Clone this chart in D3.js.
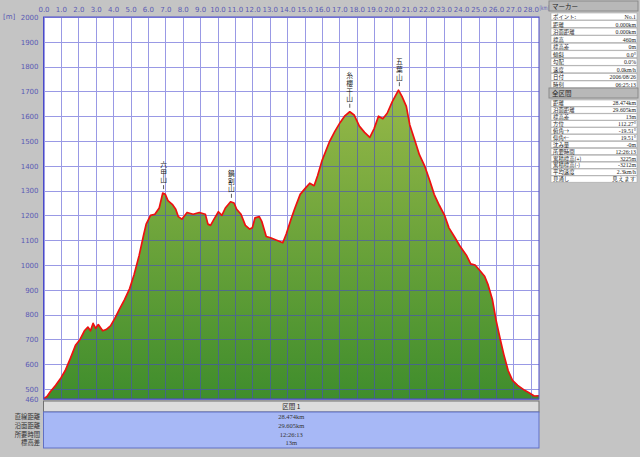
<!DOCTYPE html>
<html><head><meta charset="utf-8">
<script src="https://cdn.jsdelivr.net/npm/d3@7"></script>
<style>
html,body{margin:0;padding:0;background:#c4c4c4;}
svg{display:block;font-family:"Noto Sans CJK JP","DejaVu Sans",sans-serif;}
</style></head>
<body><svg id="c" width="640" height="457"></svg>
<script>
// ---- data ----
const distKm = [0.00,0.20,0.40,0.70,1.00,1.25,1.55,1.85,2.10,2.35,2.55,2.70,2.85,3.00,3.15,3.40,3.60,3.85,4.10,4.35,4.65,4.95,5.20,5.50,5.75,5.90,6.15,6.40,6.65,6.85,7.00,7.15,7.40,7.60,7.75,7.95,8.25,8.60,8.95,9.30,9.45,9.60,9.80,10.05,10.25,10.45,10.75,10.95,11.10,11.35,11.60,11.85,12.00,12.15,12.40,12.55,12.80,13.05,13.40,13.75,13.95,14.20,14.45,14.75,15.05,15.30,15.55,15.75,16.00,16.25,16.45,16.75,17.05,17.30,17.60,17.85,18.15,18.45,18.75,19.00,19.25,19.50,19.75,20.05,20.40,20.60,20.85,21.05,21.35,21.60,21.90,22.20,22.45,22.75,23.05,23.30,23.65,23.90,24.10,24.30,24.55,24.80,25.05,25.35,25.55,25.80,26.00,26.25,26.45,26.70,26.95,27.25,27.65,27.90,28.20,28.474];
const elevM = [460,470,490,515,545,575,625,678,700,735,750,735,765,745,760,735,740,755,785,820,860,905,960,1040,1120,1165,1200,1205,1230,1290,1285,1260,1245,1225,1195,1185,1212,1205,1212,1205,1165,1160,1185,1215,1200,1230,1255,1250,1225,1205,1160,1145,1150,1190,1195,1175,1115,1110,1100,1090,1125,1180,1230,1285,1310,1330,1320,1360,1420,1465,1500,1540,1575,1600,1618,1605,1560,1535,1515,1550,1600,1590,1612,1660,1705,1680,1640,1565,1500,1445,1400,1340,1285,1240,1200,1150,1110,1080,1060,1040,1005,1000,980,955,920,860,780,700,640,575,535,515,495,485,472,473];
const xTicks = d3.range(0, 29, 1);
const yTicks = [2000,1900,1800,1700,1600,1500,1400,1300,1200,1100,1000,900,800,700,600,500,460];
const peakNames = ["六甲山","鍋割山","糸櫻干山","五葉山"];
const peakKm = [6.9,10.8,17.6,20.45];
const peakElev = [1290,1255,1618,1705];
const markerLabels = ["ポイント:","距離","沿面距離","標高","標高差","傾斜","勾配","速度","日付","時刻"];
const markerValues = ["No.1","0.000km","0.000km","460m","0m","0.0°","0.0%","0.0km/h","2006/08/26","06:25:13"];
const totalLabels = ["距離","沿面距離","標高差","方位","俯角→","仰角←","沈み量","所要時間","累積標高(+)","累積標高(-)","平均速度","見通し"];
const totalValues = ["28.474km","29.605km","13m","112.27°","-19.51°","19.51°","-0m","12:26:13","3225m","-3212m","2.3km/h","見えます"];
const sectionLabels = ["直線距離","沿面距離","所要時間","標高差"];
const sectionValues = ["28.474km","29.605km","12:26:13","13m"];

// ---- drawing ----
const svg = d3.select("#c");
const x = d3.scaleLinear().domain([0, 28.474]).range([43.5, 539]);
const y = d3.scaleLinear().domain([460, 2000]).range([399, 17]);
const axisCol = "#5a5ab4";

const defs = svg.append("defs");
const g1 = defs.append("linearGradient").attr("id","gf")
  .attr("gradientUnits","userSpaceOnUse").attr("x1",0).attr("x2",0).attr("y1",y(1700)).attr("y2",y(460));
g1.append("stop").attr("offset","0").attr("stop-color","#96b848");
g1.append("stop").attr("offset","1").attr("stop-color","#3f8d2c");

svg.append("rect").attr("x",x(0)).attr("y",y(2000)).attr("width",x(28.474)-x(0)).attr("height",y(460)-y(2000)).attr("fill","#fff");

const pts = distKm.map((d,i)=>[d, elevM[i]]);
svg.append("path").datum(pts).attr("fill","url(#gf)")
  .attr("d", d3.area().x(d=>x(d[0])).y0(y(460)).y1(d=>y(d[1])));

const grid = svg.append("g").attr("stroke","#4646d0").attr("stroke-width",1).attr("opacity",0.55);
xTicks.forEach(t=>{ grid.append("line").attr("x1",Math.round(x(t))+0.5).attr("x2",Math.round(x(t))+0.5).attr("y1",y(2000)).attr("y2",y(460)); });
yTicks.forEach(t=>{ grid.append("line").attr("x1",x(0)).attr("x2",x(28.474)).attr("y1",Math.round(y(t))+0.5).attr("y2",Math.round(y(t))+0.5); });

svg.append("path").datum(pts).attr("fill","none").attr("stroke","#ee1010").attr("stroke-width",1.7).attr("stroke-linejoin","round")
  .attr("d", d3.line().x(d=>x(d[0])).y(d=>y(d[1])));

svg.append("rect").attr("x",x(0)).attr("y",y(2000)).attr("width",x(28.474)-x(0)).attr("height",y(460)-y(2000))
  .attr("fill","none").attr("stroke","#4a4ac8").attr("stroke-width",1);

const xAxis = svg.append("g").attr("transform",`translate(0,${y(2000)})`)
  .call(d3.axisTop(x).tickValues(xTicks).tickFormat(d3.format(".1f")).tickSize(0).tickPadding(5));
xAxis.select(".domain").remove();
xAxis.selectAll("text").attr("fill",axisCol).attr("font-size",7).attr("font-family","DejaVu Sans");
const yAxis = svg.append("g").attr("transform",`translate(${x(0)},0)`)
  .call(d3.axisLeft(y).tickValues(yTicks).tickFormat(d3.format("d")).tickSize(0).tickPadding(5));
yAxis.select(".domain").remove();
yAxis.selectAll("text").attr("fill",axisCol).attr("font-size",7).attr("font-family","DejaVu Sans");
svg.append("text").attr("x",539.5).attr("y",10).attr("font-size",6).attr("fill",axisCol).attr("font-family","DejaVu Sans")
  .attr("textLength",9.5).attr("lengthAdjust","spacingAndGlyphs").text("[km]");
svg.append("text").attr("x",3).attr("y",19).attr("font-size",7).attr("fill",axisCol).attr("font-family","DejaVu Sans").text("[m]");

// peak labels (vertical writing)
peakNames.forEach((n,i)=>{
  const px = x(peakKm[i]);
  const nChars = Array.from(n).length;
  const bottom = y(peakElev[i]) - 9;
  const top = bottom - nChars*7.6;
  svg.append("text").attr("x",px).attr("y",top)
    .style("writing-mode","vertical-rl").attr("text-anchor","start")
    .attr("font-size",6.8).attr("letter-spacing",0.8).attr("fill","#222").text(n);
  svg.append("line").attr("x1",px).attr("x2",px).attr("y1",bottom+1).attr("y2",bottom+5).attr("stroke","#333").attr("stroke-width",0.8);
});

// section bar
svg.append("rect").attr("x",x(0)).attr("y",401).attr("width",x(28.474)-x(0)).attr("height",11).attr("fill","#dcdcdc").attr("stroke","#707070");
svg.append("text").attr("x",(x(0)+x(28.474))/2).attr("y",409).attr("text-anchor","middle").attr("font-size",6.5).attr("fill","#222").text("区間 1");
svg.append("rect").attr("x",x(0)).attr("y",412).attr("width",x(28.474)-x(0)).attr("height",36).attr("fill","#a7b8f6").attr("stroke","#6070c4");
sectionLabels.forEach((l,i)=>{
  svg.append("text").attr("x",40).attr("y",419+i*8.8).attr("text-anchor","end").attr("font-size",6.3).attr("fill","#333").text(l);
  svg.append("text").attr("x",(x(0)+x(28.474))/2).attr("y",419+i*8.8).attr("text-anchor","middle").attr("font-size",6.5).attr("fill","#333").attr("font-family","Liberation Serif").text(sectionValues[i]);
});

// right panel
function panel(title, top, labels, values, rowH){
  const p = svg.append("g");
  p.append("rect").attr("x",549).attr("y",top).attr("width",89).attr("height",10).attr("fill","#b8b8b8").attr("stroke","#8a8a8a");
  p.append("text").attr("x",552).attr("y",top+7.5).attr("font-size",6.5).attr("fill","#222").text(title);
  labels.forEach((l,i)=>{
    const ry = top + 12 + i*rowH;
    p.append("rect").attr("x",551).attr("y",ry).attr("width",86).attr("height",rowH-0.6).attr("fill","#fff").attr("stroke","#a8a8a8").attr("stroke-width",0.6);
    p.append("text").attr("x",553).attr("y",ry+rowH-1.6).attr("font-size",5.4).attr("fill","#222").text(l);
    p.append("text").attr("x",636).attr("y",ry+rowH-1.6).attr("text-anchor","end").attr("font-size",5.8).attr("fill","#222").attr("font-family","Liberation Serif").text(values[i]);
  });
}
panel("マーカー", 1, markerLabels, markerValues, 7.55);
panel("全区間", 88, totalLabels, totalValues, 6.9);
</script></body></html>
